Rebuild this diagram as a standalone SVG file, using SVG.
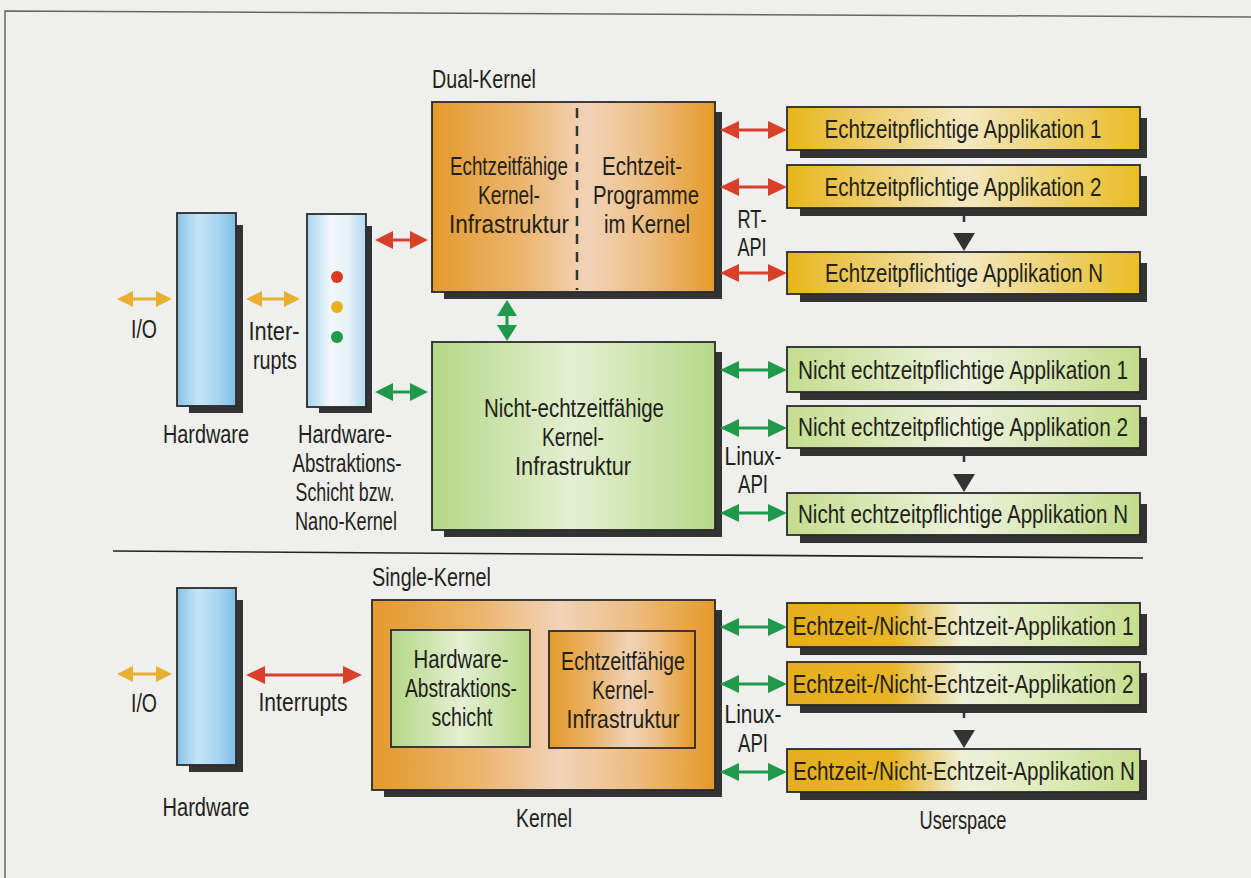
<svg xmlns="http://www.w3.org/2000/svg" width="1251" height="878" viewBox="0 0 1251 878">
<defs>
<linearGradient id="hwGrad" x1="0" y1="0" x2="1" y2="0">
<stop offset="0" stop-color="#86C3E8"/><stop offset="0.35" stop-color="#C5E4F5"/><stop offset="0.7" stop-color="#A8D5F0"/><stop offset="1" stop-color="#7EBDE5"/>
</linearGradient>
<linearGradient id="halGrad" x1="0" y1="0" x2="1" y2="0">
<stop offset="0" stop-color="#A9D3EE"/><stop offset="0.4" stop-color="#F2F7FA"/><stop offset="0.7" stop-color="#E5F0F7"/><stop offset="1" stop-color="#B2D9F0"/>
</linearGradient>
<linearGradient id="orangeGrad" x1="0" y1="0" x2="1" y2="0">
<stop offset="0" stop-color="#E49A2C"/><stop offset="0.3" stop-color="#EBB36A"/><stop offset="0.55" stop-color="#F1D3B8"/><stop offset="0.75" stop-color="#EDBE85"/><stop offset="1" stop-color="#E59A28"/>
</linearGradient>
<linearGradient id="greenGrad" x1="0" y1="0" x2="1" y2="0">
<stop offset="0" stop-color="#B3D786"/><stop offset="0.5" stop-color="#E4EFD2"/><stop offset="1" stop-color="#B6D888"/>
</linearGradient>
<linearGradient id="yellowGrad" x1="0" y1="0" x2="1" y2="0">
<stop offset="0" stop-color="#E7B51A"/><stop offset="0.5" stop-color="#F3E8C2"/><stop offset="1" stop-color="#E9BD26"/>
</linearGradient>
<linearGradient id="greenAppGrad" x1="0" y1="0" x2="1" y2="0">
<stop offset="0" stop-color="#C3DD8E"/><stop offset="0.5" stop-color="#EDF1DD"/><stop offset="1" stop-color="#C2DC8A"/>
</linearGradient>
<linearGradient id="mixGrad" x1="0" y1="0" x2="1" y2="0">
<stop offset="0" stop-color="#E6AE1E"/><stop offset="0.3" stop-color="#E8B425"/><stop offset="0.5" stop-color="#EEF0DA"/><stop offset="0.75" stop-color="#DDEAB8"/><stop offset="1" stop-color="#C5DE8E"/>
</linearGradient>
</defs>
<style>
text{font-family:"Liberation Sans",Arial,sans-serif;fill:#231f1a;font-size:25px}
.c{text-anchor:middle}
.app{font-size:25px;text-anchor:middle}
.box{stroke:#2a2a2a;stroke-width:1.8}
.sh{fill:#333333}
.red{fill:#D8402A}
.yel{fill:#E8B030}
.grn{fill:#1E9A4A}
.tri{fill:#333333}
.stub{stroke:#333333;stroke-width:2.5}
.frame{stroke:#666666;stroke-width:1.5;fill:none}
</style>
<rect width="1251" height="878" fill="#EFEFEE"/>
<path class="frame" d="M5,878 L5,11 L1251,17"/>
<line x1="113" y1="551" x2="1143" y2="558" stroke="#222" stroke-width="1.6"/>

<g id="hardware-top">
<rect class="sh" x="189" y="225" width="54" height="188"/>
<rect class="box" x="177" y="213" width="59" height="193" fill="url(#hwGrad)"/>
<text class="c" x="206" y="443" textLength="86" lengthAdjust="spacingAndGlyphs">Hardware</text>
</g>
<g id="io-top-label"><text class="c" x="144" y="338" textLength="26" lengthAdjust="spacingAndGlyphs">I/O</text></g>
<g id="interrupts-top-label">
<text class="c" x="274" y="340" font-size="24" textLength="51" lengthAdjust="spacingAndGlyphs">Inter-</text>
<text class="c" x="275" y="369" font-size="24" textLength="44" lengthAdjust="spacingAndGlyphs">rupts</text>
</g>
<g id="hal">
<rect class="sh" x="319" y="226" width="53" height="187"/>
<rect class="box" x="307" y="214" width="59" height="193" fill="url(#halGrad)"/>
<circle cx="337" cy="277" r="6" fill="#D83A26"/>
<circle cx="337" cy="307" r="6" fill="#E8B020"/>
<circle cx="337" cy="337" r="6" fill="#1E9A48"/>
<text class="c" x="345" y="443" textLength="94" lengthAdjust="spacingAndGlyphs">Hardware-</text>
<text class="c" x="347" y="472" textLength="109" lengthAdjust="spacingAndGlyphs">Abstraktions-</text>
<text class="c" x="345" y="501" textLength="99" lengthAdjust="spacingAndGlyphs">Schicht bzw.</text>
<text class="c" x="346" y="530" textLength="102" lengthAdjust="spacingAndGlyphs">Nano-Kernel</text>
</g>
<g id="dual-kernel">
<text x="432" y="88" textLength="104" lengthAdjust="spacingAndGlyphs">Dual-Kernel</text>
<rect class="sh" x="444" y="112" width="278" height="187"/>
<rect class="box" x="432" y="102" width="283" height="190" fill="url(#orangeGrad)"/>
<line x1="577" y1="108" x2="577" y2="290" stroke="#333" stroke-width="2.5" stroke-dasharray="10 8"/>
<text class="c" x="509" y="175" textLength="118" lengthAdjust="spacingAndGlyphs">Echtzeitfähige</text>
<text class="c" x="509" y="204" textLength="62" lengthAdjust="spacingAndGlyphs">Kernel-</text>
<text class="c" x="509" y="233" textLength="120" lengthAdjust="spacingAndGlyphs">Infrastruktur</text>
<text class="c" x="642" y="175" textLength="80" lengthAdjust="spacingAndGlyphs">Echtzeit-</text>
<text class="c" x="646" y="204" textLength="106" lengthAdjust="spacingAndGlyphs">Programme</text>
<text class="c" x="647" y="233" textLength="86" lengthAdjust="spacingAndGlyphs">im Kernel</text>
</g>
<g id="nrt-kernel">
<rect class="sh" x="444" y="352" width="278" height="185"/>
<rect class="box" x="432" y="342" width="283" height="188" fill="url(#greenGrad)"/>
<text class="c" x="574" y="417" textLength="180" lengthAdjust="spacingAndGlyphs">Nicht-echtzeitfähige</text>
<text class="c" x="573" y="446" textLength="62" lengthAdjust="spacingAndGlyphs">Kernel-</text>
<text class="c" x="573" y="475" textLength="116" lengthAdjust="spacingAndGlyphs">Infrastruktur</text>
</g>
<g id="rt-api-label">
<text class="c" x="752" y="228" textLength="29" lengthAdjust="spacingAndGlyphs">RT-</text>
<text class="c" x="752" y="256" textLength="29" lengthAdjust="spacingAndGlyphs">API</text>
</g>
<g id="rt-app-1">
<rect class="sh" x="800" y="118" width="347" height="40"/>
<rect class="box" x="787" y="107" width="353" height="43" fill="url(#yellowGrad)"/>
<text class="app" x="963" y="138" textLength="277" lengthAdjust="spacingAndGlyphs">Echtzeitpflichtige Applikation 1</text>
</g>
<g id="rt-app-2">
<rect class="sh" x="800" y="176" width="347" height="40"/>
<rect class="box" x="787" y="165" width="353" height="43" fill="url(#yellowGrad)"/>
<text class="app" x="963" y="196" textLength="277" lengthAdjust="spacingAndGlyphs">Echtzeitpflichtige Applikation 2</text>
</g>
<g id="rt-app-n">
<rect class="sh" x="800" y="263" width="347" height="39"/>
<rect class="box" x="787" y="252" width="353" height="42" fill="url(#yellowGrad)"/>
<text class="app" x="964" y="282" textLength="278" lengthAdjust="spacingAndGlyphs">Echtzeitpflichtige Applikation N</text>
</g>
<g id="linux-api-top-label">
<text class="c" x="753" y="465" textLength="57" lengthAdjust="spacingAndGlyphs">Linux-</text>
<text class="c" x="753" y="493" textLength="30" lengthAdjust="spacingAndGlyphs">API</text>
</g>
<g id="nrt-app-1">
<rect class="sh" x="800" y="358" width="347" height="42"/>
<rect class="box" x="787" y="347" width="353" height="45" fill="url(#greenAppGrad)"/>
<text class="app" x="963" y="379" textLength="330" lengthAdjust="spacingAndGlyphs">Nicht echtzeitpflichtige Applikation 1</text>
</g>
<g id="nrt-app-2">
<rect class="sh" x="800" y="417" width="347" height="39"/>
<rect class="box" x="787" y="406" width="353" height="42" fill="url(#greenAppGrad)"/>
<text class="app" x="963" y="436" textLength="330" lengthAdjust="spacingAndGlyphs">Nicht echtzeitpflichtige Applikation 2</text>
</g>
<g id="nrt-app-n">
<rect class="sh" x="800" y="504" width="347" height="39"/>
<rect class="box" x="787" y="493" width="353" height="42" fill="url(#greenAppGrad)"/>
<text class="app" x="963" y="523" textLength="330" lengthAdjust="spacingAndGlyphs">Nicht echtzeitpflichtige Applikation N</text>
</g>

<g id="hardware-bottom">
<rect class="sh" x="189" y="600" width="54" height="172"/>
<rect class="box" x="177" y="588" width="59" height="177" fill="url(#hwGrad)"/>
<text class="c" x="206" y="816" textLength="87" lengthAdjust="spacingAndGlyphs">Hardware</text>
</g>
<g id="io-bottom-label"><text class="c" x="144" y="712" textLength="26" lengthAdjust="spacingAndGlyphs">I/O</text></g>
<g id="interrupts-bottom-label"><text class="c" x="303" y="711" textLength="89" lengthAdjust="spacingAndGlyphs">Interrupts</text></g>
<g id="single-kernel">
<text x="372" y="586" textLength="119" lengthAdjust="spacingAndGlyphs">Single-Kernel</text>
<rect class="sh" x="384" y="610" width="338" height="187"/>
<rect class="box" x="372" y="600" width="343" height="190" fill="url(#orangeGrad)"/>
<text class="c" x="544" y="827" textLength="56" lengthAdjust="spacingAndGlyphs">Kernel</text>
</g>
<g id="hal-inner">
<rect class="box" x="391" y="630" width="139" height="117" fill="url(#greenGrad)"/>
<text class="c" x="461" y="668" textLength="95" lengthAdjust="spacingAndGlyphs">Hardware-</text>
<text class="c" x="461" y="697" textLength="112" lengthAdjust="spacingAndGlyphs">Abstraktions-</text>
<text class="c" x="462" y="726" textLength="61" lengthAdjust="spacingAndGlyphs">schicht</text>
</g>
<g id="rt-kernel-inner">
<rect class="box" x="549" y="631" width="146" height="117" fill="url(#orangeGrad)"/>
<text class="c" x="623" y="670" textLength="124" lengthAdjust="spacingAndGlyphs">Echtzeitfähige</text>
<text class="c" x="623" y="699" textLength="62" lengthAdjust="spacingAndGlyphs">Kernel-</text>
<text class="c" x="623" y="728" textLength="113" lengthAdjust="spacingAndGlyphs">Infrastruktur</text>
</g>
<g id="linux-api-bottom-label">
<text class="c" x="753" y="723" textLength="57" lengthAdjust="spacingAndGlyphs">Linux-</text>
<text class="c" x="753" y="752" textLength="30" lengthAdjust="spacingAndGlyphs">API</text>
</g>
<g id="mix-app-1">
<rect class="sh" x="800" y="614" width="347" height="41"/>
<rect class="box" x="787" y="603" width="353" height="44" fill="url(#mixGrad)"/>
<text class="app" x="963" y="635" textLength="341" lengthAdjust="spacingAndGlyphs">Echtzeit-/Nicht-Echtzeit-Applikation 1</text>
</g>
<g id="mix-app-2">
<rect class="sh" x="800" y="673" width="347" height="40"/>
<rect class="box" x="787" y="662" width="353" height="43" fill="url(#mixGrad)"/>
<text class="app" x="963" y="693" textLength="341" lengthAdjust="spacingAndGlyphs">Echtzeit-/Nicht-Echtzeit-Applikation 2</text>
</g>
<g id="mix-app-n">
<rect class="sh" x="800" y="760" width="347" height="40"/>
<rect class="box" x="787" y="749" width="353" height="43" fill="url(#mixGrad)"/>
<text class="app" x="964" y="780" textLength="342" lengthAdjust="spacingAndGlyphs">Echtzeit-/Nicht-Echtzeit-Applikation N</text>
</g>
<g id="userspace-label"><text class="c" x="963" y="829" textLength="87" lengthAdjust="spacingAndGlyphs">Userspace</text></g>

<g id="connectors">
<path class="yel" d="M117,299 L133,291 L133,297.5 L156,297.5 L156,291 L172,299 L156,307 L156,300.5 L133,300.5 L133,307 Z"/>
<path class="yel" d="M246,299 L262,291 L262,297.5 L284,297.5 L284,291 L300,299 L284,307 L284,300.5 L262,300.5 L262,307 Z"/>
<path class="yel" d="M117,674 L133,666 L133,672.5 L156,672.5 L156,666 L172,674 L156,682 L156,675.5 L133,675.5 L133,682 Z"/>
<path class="red" d="M375,240 L393,231 L393,238.5 L410,238.5 L410,231 L428,240 L410,249 L410,241.5 L393,241.5 L393,249 Z"/>
<path class="red" d="M720,130 L739,121 L739,128.5 L768,128.5 L768,121 L787,130 L768,139 L768,131.5 L739,131.5 L739,139 Z"/>
<path class="red" d="M720,187 L739,178 L739,185.5 L768,185.5 L768,178 L787,187 L768,196 L768,188.5 L739,188.5 L739,196 Z"/>
<path class="red" d="M720,273 L739,264 L739,271.5 L768,271.5 L768,264 L787,273 L768,282 L768,274.5 L739,274.5 L739,282 Z"/>
<path class="red" d="M246,675 L265,666 L265,673.5 L343,673.5 L343,666 L362,675 L343,684 L343,676.5 L265,676.5 L265,684 Z"/>
<path class="grn" d="M375,392 L393,383 L393,390.5 L410,390.5 L410,383 L428,392 L410,401 L410,393.5 L393,393.5 L393,401 Z"/>
<path class="grn" d="M507,300 L517,316 L508.5,316 L508.5,325 L517,325 L507,341 L497,325 L505.5,325 L505.5,316 L497,316 Z"/>
<path class="grn" d="M720,370 L739,361 L739,368.5 L768,368.5 L768,361 L787,370 L768,379 L768,371.5 L739,371.5 L739,379 Z"/>
<path class="grn" d="M720,428 L739,419 L739,426.5 L768,426.5 L768,419 L787,428 L768,437 L768,429.5 L739,429.5 L739,437 Z"/>
<path class="grn" d="M720,513 L739,504 L739,511.5 L768,511.5 L768,504 L787,513 L768,522 L768,514.5 L739,514.5 L739,522 Z"/>
<path class="grn" d="M720,627 L739,618 L739,625.5 L768,625.5 L768,618 L787,627 L768,636 L768,628.5 L739,628.5 L739,636 Z"/>
<path class="grn" d="M720,684 L739,675 L739,682.5 L768,682.5 L768,675 L787,684 L768,693 L768,685.5 L739,685.5 L739,693 Z"/>
<path class="grn" d="M720,772 L739,763 L739,770.5 L768,770.5 L768,763 L787,772 L768,781 L768,773.5 L739,773.5 L739,781 Z"/>
<line class="stub" x1="964" y1="208" x2="964" y2="222"/>
<polygon class="tri" points="953,233 975,233 964,251"/>
<line class="stub" x1="964" y1="448" x2="964" y2="462"/>
<polygon class="tri" points="953,474 975,474 964,492"/>
<line class="stub" x1="964" y1="705" x2="964" y2="718"/>
<polygon class="tri" points="953,730 975,730 964,748"/>
</g>
</svg>
